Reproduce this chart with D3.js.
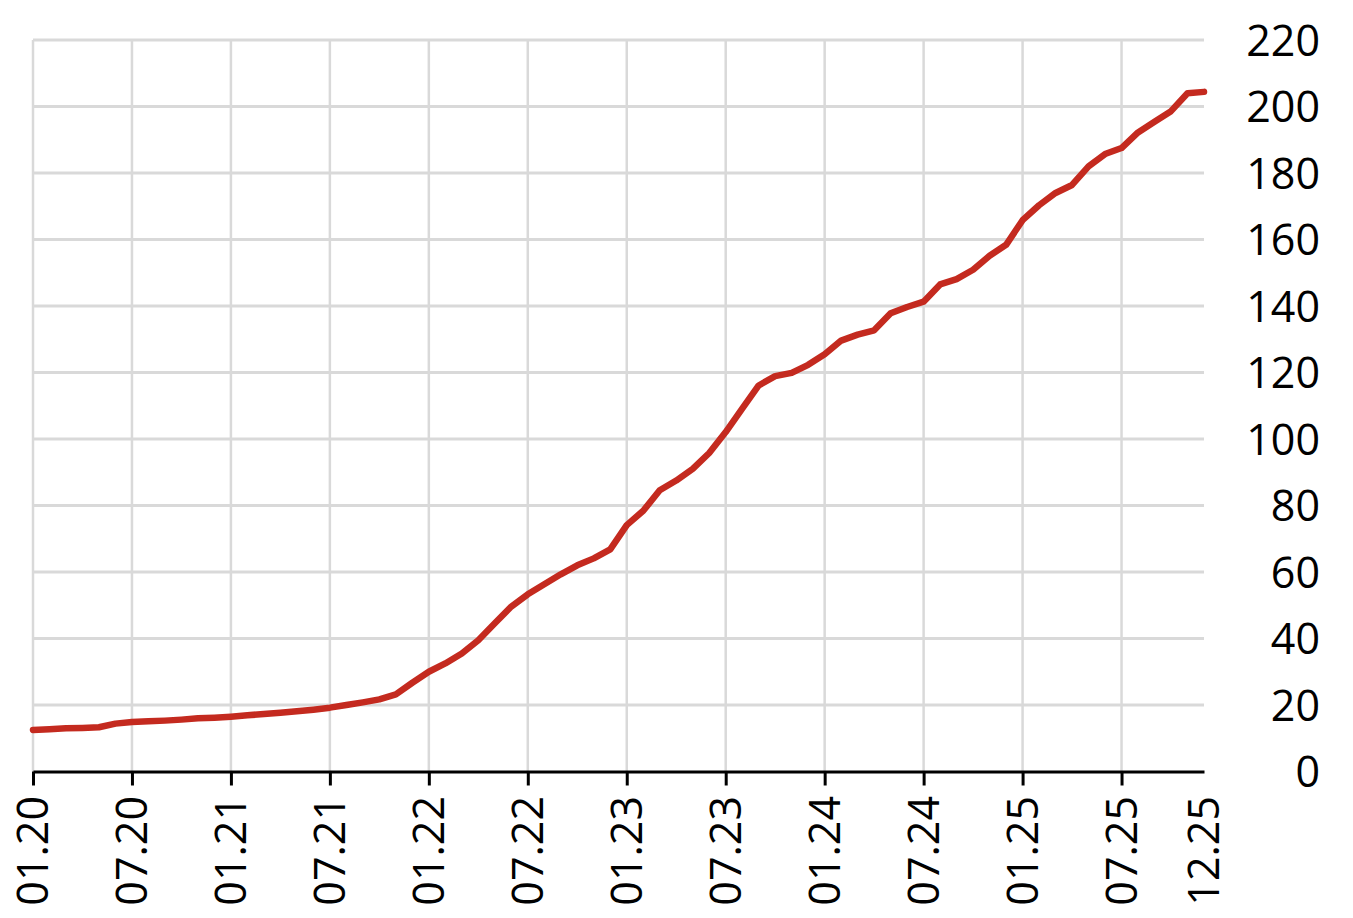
<!DOCTYPE html>
<html>
<head>
<meta charset="utf-8">
<script src="https://cdn.jsdelivr.net/npm/d3@7/dist/d3.min.js"></script>
<style>
  html, body { margin: 0; padding: 0; background: #ffffff; }
  svg { display: block; }
</style>
</head>
<body>
<svg id="chart" width="1353" height="918"></svg>
<script>
const months = [
  "01.20","02.20","03.20","04.20","05.20","06.20","07.20","08.20","09.20","10.20","11.20","12.20",
  "01.21","02.21","03.21","04.21","05.21","06.21","07.21","08.21","09.21","10.21","11.21","12.21",
  "01.22","02.22","03.22","04.22","05.22","06.22","07.22","08.22","09.22","10.22","11.22","12.22",
  "01.23","02.23","03.23","04.23","05.23","06.23","07.23","08.23","09.23","10.23","11.23","12.23",
  "01.24","02.24","03.24","04.24","05.24","06.24","07.24","08.24","09.24","10.24","11.24","12.24",
  "01.25","02.25","03.25","04.25","05.25","06.25","07.25","08.25","09.25","10.25","11.25","12.25"
];
const values = [
  12.5, 12.7, 13.0, 13.1, 13.3, 14.4, 14.9, 15.1, 15.3, 15.6, 16.0, 16.2,
  16.5, 16.9, 17.3, 17.7, 18.1, 18.6, 19.2, 20.0, 20.8, 21.7, 23.2, 26.7,
  30.0, 32.5, 35.5, 39.5, 44.6, 49.6, 53.3, 56.3, 59.3, 62.0, 64.1, 66.8,
  74.1, 78.4, 84.6, 87.5, 91.0, 95.8, 102.1, 109.1, 116.1, 118.9, 119.9, 122.3,
  125.5, 129.6, 131.4, 132.7, 137.8, 139.7, 141.3, 146.5, 148.1, 150.9, 155.1, 158.4,
  165.8, 170.3, 174.0, 176.4, 182.0, 185.7, 187.5, 192.2, 195.4, 198.6, 204.0, 204.4
];
const xTickLabels = ["01.20","07.20","01.21","07.21","01.22","07.22","01.23","07.23","01.24","07.24","01.25","07.25","12.25"];
const yTicks = [0, 20, 40, 60, 80, 100, 120, 140, 160, 180, 200, 220];

const svg = d3.select("#chart");
const plotLeft = 33, plotRight = 1204, plotTop = 40, plotBottom = 771.5;

const x = d3.scalePoint().domain(months).range([plotLeft, plotRight]);
const y = d3.scaleLinear().domain([0, 220]).range([plotBottom, plotTop]);

const font = "'Open Sans', 'Noto Sans', sans-serif";

// horizontal gridlines
svg.append("g").selectAll("line").data(yTicks.filter(d => d > 0)).join("line")
  .attr("x1", plotLeft).attr("x2", plotRight)
  .attr("y1", d => y(d)).attr("y2", d => y(d))
  .attr("stroke", "#d9d9d9").attr("stroke-width", 3);

// vertical gridlines (every 6 months)
const gridMonths = xTickLabels.filter(m => m !== "12.25");
svg.append("g").selectAll("line").data(gridMonths).join("line")
  .attr("x1", d => x(d)).attr("x2", d => x(d))
  .attr("y1", plotTop).attr("y2", plotBottom)
  .attr("stroke", "#d9d9d9").attr("stroke-width", 2.5);

// x axis
const xAxis = d3.axisBottom(x)
  .tickValues(gridMonths)
  .tickSize(14)
  .tickSizeOuter(0)
  .tickFormat("");
const gx = svg.append("g").attr("transform", `translate(0,${plotBottom})`).call(xAxis);
gx.select(".domain").attr("stroke", "#000").attr("stroke-width", 3);
gx.selectAll(".tick line").attr("stroke", "#000").attr("stroke-width", 3);

// x labels (rotated)
svg.append("g").selectAll("text").data(xTickLabels).join("text")
  .attr("transform", d => `translate(${x(d)},796) rotate(-90)`)
  .attr("text-anchor", "end")
  .attr("dy", "0.36em")
  .attr("font-family", font)
  .attr("font-size", 43)
  .attr("fill", "#000")
  .text(d => d);

// y labels on right
const yAxis = d3.axisRight(y).tickValues(yTicks).tickSize(0).tickFormat(d3.format("d"));
const gy = svg.append("g").attr("transform", `translate(1320,0)`).call(yAxis);
gy.select(".domain").remove();
gy.selectAll(".tick text")
  .attr("x", 0)
  .attr("dy", "0.36em")
  .attr("text-anchor", "end")
  .attr("font-family", font)
  .attr("font-size", 43)
  .attr("fill", "#000");

// line
const line = d3.line().x((d, i) => x(months[i])).y(d => y(d));
svg.append("path").datum(values)
  .attr("d", line)
  .attr("fill", "none")
  .attr("stroke", "#c42a1f")
  .attr("stroke-width", 6.5)
  .attr("stroke-linejoin", "round")
  .attr("stroke-linecap", "round");
</script>
</body>
</html>
